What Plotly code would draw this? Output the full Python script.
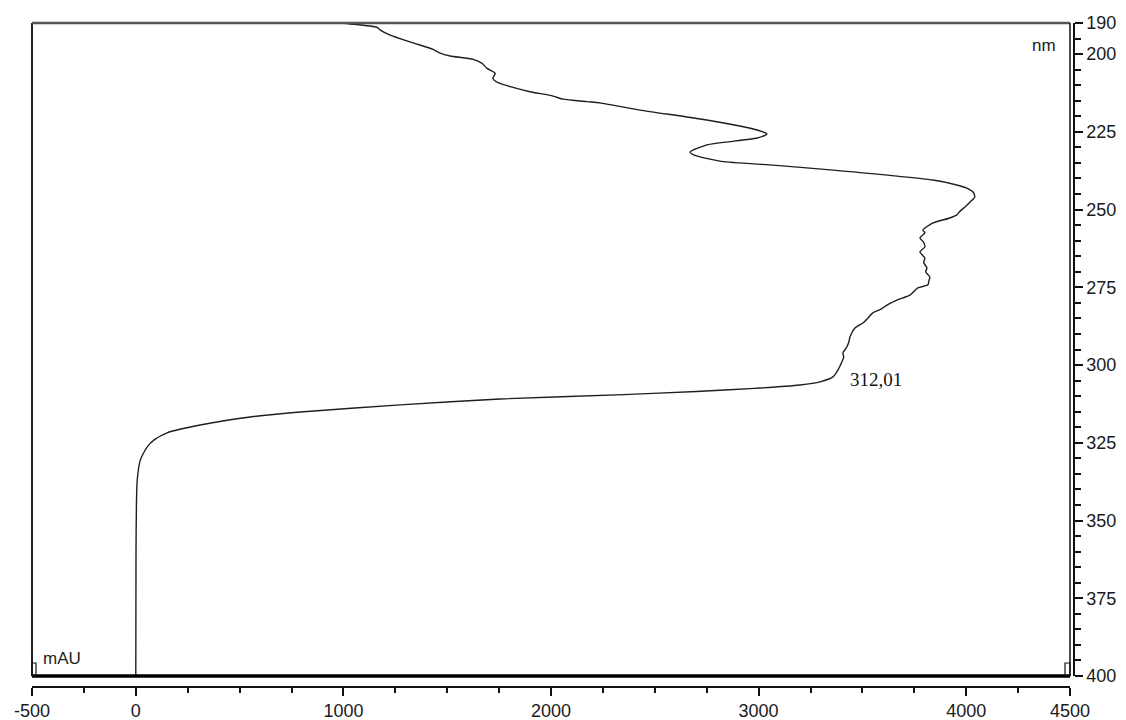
import plotly.graph_objects as go

# Absorbance spectrum: wavelength (nm) vs absorbance (mAU)
wavelength_nm = [
    190.0, 190.3, 191.4, 192.3, 193.9, 196.4, 198.5, 199.7, 200.6, 201.7,
    203.0, 204.6, 206.2, 207.8, 209.2, 210.7, 212.1, 213.5, 214.5, 215.3,
    215.7, 218.0, 221.2, 224.4, 225.7, 227.0, 229.2, 231.5, 232.5, 234.5,
    235.7, 237.3, 240.5, 242.0, 243.1, 244.5, 246.0, 247.5, 249.2, 250.5,
    251.7, 252.7, 254.3, 256.6, 257.5, 259.1, 260.5, 262.0, 263.6, 265.6,
    267.0, 268.8, 270.0, 271.7, 273.0, 274.2, 275.2, 277.5, 279.1, 280.7,
    282.0, 283.2, 285.0, 286.5, 288.1, 291.0, 292.5, 294.2, 296.1, 297.5,
    299.0, 301.6, 303.8, 305.4, 306.4, 307.5, 308.5, 309.5, 310.9, 312.8,
    315.1, 316.7, 319.3, 321.8, 324.0, 326.3, 330.5, 336.9, 345.0, 360.0,
    400.0,
]
absorbance_mau = [
    985, 1033, 1162, 1178, 1225, 1336, 1432, 1466, 1514, 1625,
    1668, 1692, 1731, 1720, 1745, 1817, 1899, 2010, 2058, 2174,
    2236, 2429, 2751, 2993, 3040, 2993, 2751, 2670, 2690, 2820,
    3070, 3358, 3840, 3950, 4003, 4035, 4041, 4020, 3994, 3970,
    3955, 3921, 3840, 3791, 3801, 3777, 3795, 3801, 3777, 3801,
    3795, 3811, 3805, 3825, 3820, 3816, 3767, 3729, 3666, 3618,
    3590, 3550, 3525, 3502, 3464, 3440, 3435, 3425, 3406, 3410,
    3401, 3382, 3358, 3296, 3199, 2980, 2700, 2350, 1755, 1274,
    792, 551, 310, 151, 90, 55, 22, 7, 3, 1,
    0,
]

x_major_ticks = [-500, 0, 1000, 2000, 3000, 4000, 4500]
x_minor_ticks = list(range(-500, 4501, 250))
y_major_ticks = [190, 200, 225, 250, 275, 300, 325, 350, 375, 400]
y_minor_ticks = list(range(190, 401, 5))

peak_label = "312,01"
peak_label_pos = (3430, 304.8)

tick_font = dict(family="Liberation Sans, Arial, sans-serif", size=18, color="#1a1a1a")

fig = go.Figure()
fig.add_trace(go.Scatter(
    x=absorbance_mau, y=wavelength_nm, mode="lines",
    line=dict(color="#1e1e1e", width=1.4, shape="spline", smoothing=0.6),
    hoverinfo="skip", showlegend=False,
))

x_dom_end = 1038 / 1042
y_dom_start = 11 / 664

fig.update_layout(
    width=1126, height=720,
    margin=dict(l=32, r=52, t=23, b=33, pad=0, autoexpand=False),
    paper_bgcolor="white", plot_bgcolor="white",
    showlegend=False,
    xaxis=dict(
        range=[-500, 4500], domain=[0, x_dom_end],
        anchor="free", position=0, automargin=False,
        showgrid=False, zeroline=False,
        showline=True, linecolor="#111", linewidth=1.5,
        tickmode="array", tickvals=x_major_ticks,
        ticktext=[str(v) for v in x_major_ticks],
        ticks="outside", ticklen=8, tickwidth=1.5, tickcolor="#111",
        minor=dict(tickmode="array", tickvals=x_minor_ticks, ticks="outside",
                   ticklen=5, tickwidth=1.5, tickcolor="#111", showgrid=False),
        tickfont=tick_font,
    ),
    yaxis=dict(
        range=[400, 190], domain=[y_dom_start, 1],
        anchor="free", position=1, side="right", automargin=False,
        showgrid=False, zeroline=False,
        showline=True, linecolor="#111", linewidth=1.5,
        tickmode="array", tickvals=y_major_ticks,
        ticktext=[str(v) for v in y_major_ticks],
        ticks="outside", ticklen=8, tickwidth=1.5, tickcolor="#111",
        minor=dict(tickmode="array", tickvals=y_minor_ticks, ticks="outside",
                   ticklen=6, tickwidth=1.5, tickcolor="#111", showgrid=False),
        tickfont=tick_font,
    ),
)

frame = dict(xref="x domain", yref="y domain", type="line")
shapes = [
    dict(**frame, x0=0, x1=0, y0=0, y1=1, line=dict(color="#222", width=2)),
    dict(**frame, x0=0, x1=1, y0=1, y1=1, line=dict(color="#555", width=2.5)),
    dict(**frame, x0=1, x1=1, y0=0, y1=1, line=dict(color="#111", width=1.5)),
    dict(**frame, x0=0, x1=1, y0=0, y1=0, line=dict(color="#000", width=3.5)),
    # small corner markers
    dict(type="rect", xref="x domain", yref="y domain",
         x0=0, x1=4 / 1038, y0=0, y1=13 / 653, line=dict(color="#111", width=1.2)),
    dict(type="rect", xref="x domain", yref="y domain",
         x0=1 - 5 / 1038, x1=1, y0=0, y1=13 / 653, line=dict(color="#111", width=1.2)),
]
fig.update_layout(shapes=shapes)

fig.add_annotation(
    x=peak_label_pos[0], y=peak_label_pos[1], text=peak_label,
    showarrow=False, xanchor="left", yanchor="middle",
    font=dict(family="Liberation Serif, Times New Roman, serif", size=19, color="#111"),
)
fig.add_annotation(
    xref="x domain", yref="y domain", x=9 / 1038, y=18 / 653, text="mAU",
    showarrow=False, xanchor="left", yanchor="middle",
    font=dict(family="Liberation Sans, Arial, sans-serif", size=17, color="#222"),
)
fig.add_annotation(
    xref="x domain", yref="y domain", x=1 - 12 / 1038, y=1 - 23 / 653, text="nm",
    showarrow=False, xanchor="right", yanchor="middle",
    font=dict(family="Liberation Sans, Arial, sans-serif", size=17, color="#222"),
)

fig.write_html("out.html")
